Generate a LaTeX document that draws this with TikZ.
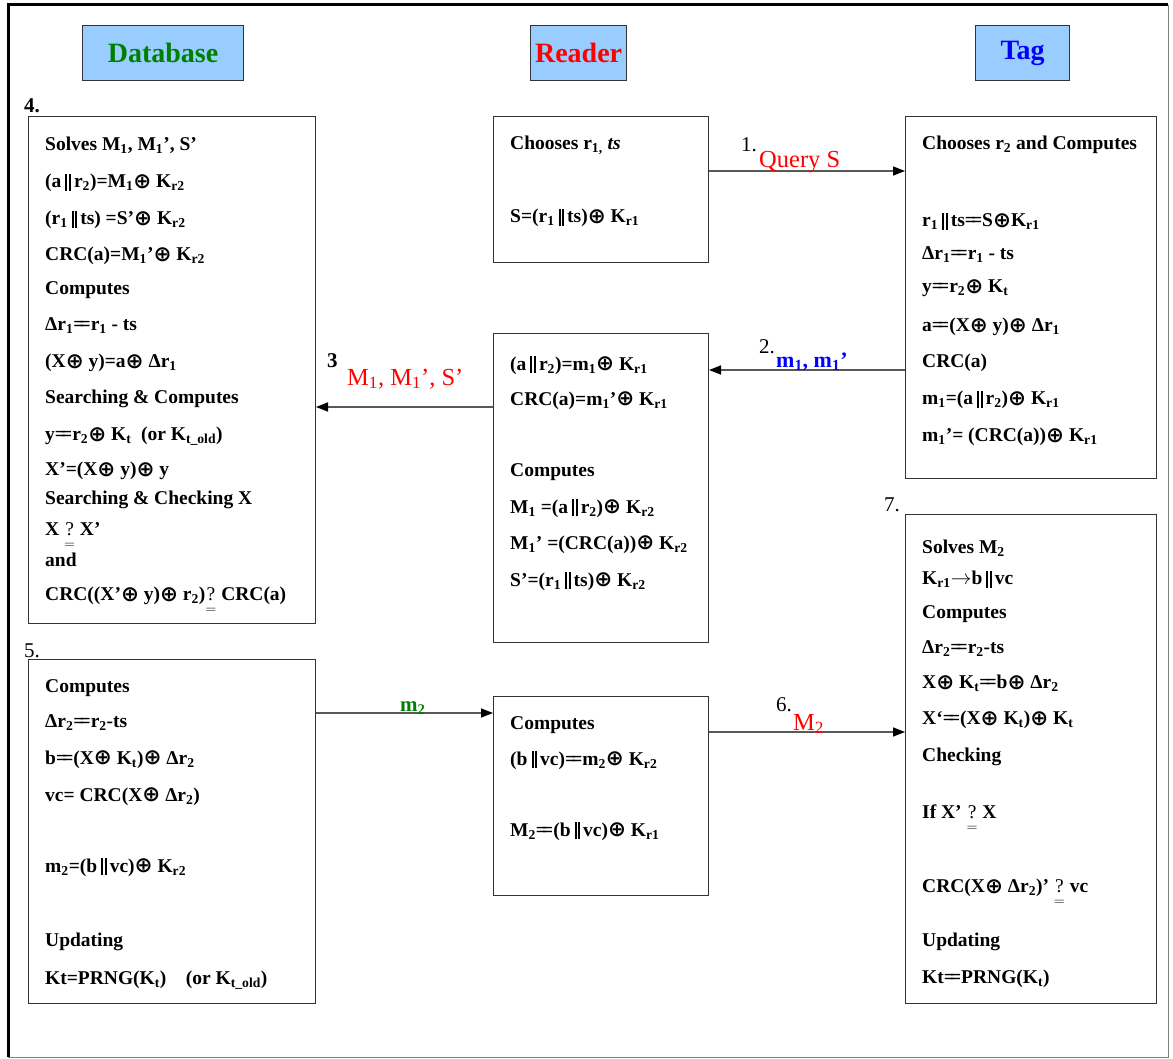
\documentclass[tikz,border=0pt]{standalone}
\usepackage{amsmath}
\usepackage{graphicx}
\usepackage{fontspec}
\setmainfont{Liberation Serif}
\newfontfamily\dvfont{DejaVu Sans}
\usetikzlibrary{arrows.meta}
\definecolor{hdrfill}{HTML}{99CCFF}
\definecolor{dgreen}{HTML}{008000}
\newcommand\xo{\raisebox{-0.5pt}{\scalebox{1.1}{\dvfont\char"2295}}}
\newcommand\pp{\kern4pt\rule[-3pt]{2pt}{17pt}\kern1.6pt\rule[-3pt]{2pt}{17pt}\kern3pt}
\newcommand\weq{=\kern-.25em=}
\newcommand\qe{\ensuremath{\underset{=}{\text{\normalfont ?}}}}
\newcommand\sbs[1]{\textsubscript{#1}}
\begin{document}
\begin{tikzpicture}[x=1pt,y=-1pt,
  hdr/.style={draw=black!80,line width=1.2pt,fill=hdrfill,inner sep=0pt,anchor=north west,font=\fontsize{28}{32}\selectfont\bfseries},
  pbox/.style={draw=black!80,line width=1pt,inner sep=0pt,anchor=north west},
  txt/.style={anchor=north west,align=left,inner sep=0pt,font=\fontsize{19.5}{36}\selectfont\bfseries},
  arr/.style={draw=black!65,line width=1.5pt,-{Triangle[length=12pt,width=9pt,color=black]}},
  num/.style={inner sep=0pt,anchor=base west,font=\fontsize{21}{24}\selectfont},
  bnum/.style={num,font=\fontsize{21}{24}\selectfont\bfseries},
  lbl/.style={inner sep=0pt,anchor=base west,font=\fontsize{24.5}{28}\selectfont}]
\useasboundingbox (0,0) rectangle (1173,1059);
% outer frame
\draw[black!50,line width=0.8pt] (1168,5) -- (1168,1057) -- (8,1057);
\draw[black,line width=3pt] (8,1057) -- (8,5) -- (1168,5);
% headers
\node[hdr,minimum width=161pt,minimum height=55pt,text=dgreen] (hdb) at (82,25) {Database};
\node[hdr,minimum width=96pt,minimum height=55pt,text=red] (hrd) at (530,25) {Reader};
\node[hdr,minimum width=94pt,minimum height=55pt,text=blue] (htg) at (975,25) {Tag};
% boxes
\node[pbox,minimum width=287pt,minimum height=507pt] (db1) at (28,116) {};
\node[pbox,minimum width=287pt,minimum height=344pt] (db2) at (28,659) {};
\node[pbox,minimum width=215pt,minimum height=146pt] (rd1) at (493,116) {};
\node[pbox,minimum width=215pt,minimum height=309pt] (rd2) at (493,333) {};
\node[pbox,minimum width=215pt,minimum height=199pt] (rd3) at (493,696) {};
\node[pbox,minimum width=251pt,minimum height=362pt] (tg1) at (905,116) {};
\node[pbox,minimum width=251pt,minimum height=489pt] (tg2) at (905,514) {};
% step numbers
\node[bnum] (n4) at (24,113) {4.};
\node[num] (n5) at (24,657) {5.};
\node[num] (n7) at (884,511) {7.};
% texts
\node[txt] (t-db1) at (45,137) {%
Solves M\sbs{1}, M\sbs{1}’, S’\\[1pt]
(a\pp r\sbs{2})=M\sbs{1}\xo{} K\sbs{r2}\\[1pt]
(r\sbs{1}\pp ts) =S’\xo{} K\sbs{r2}\\
CRC(a)=M\sbs{1}’\xo{} K\sbs{r2}\\[-2pt]
Computes\\
Δr\sbs{1}\weq r\sbs{1} - ts\\[1pt]
(X\xo{} y)=a\xo{} Δr\sbs{1}\\
Searching \& Computes\\[1pt]
y\weq r\sbs{2}\xo{} K\sbs{t}\ \ (or K\sbs{t\_old})\\[-1pt]
X’=(X\xo{} y)\xo{} y\\[-7pt]
Searching \& Checking X\\[-5pt]
X \qe{} X’\\[-5pt]
and\\[-2pt]
CRC((X’\xo{} y)\xo{} r\sbs{2})\qe{} CRC(a)};
\node[txt] (t-db2) at (45,679) {%
Computes\\[-1pt]
Δr\sbs{2}\weq r\sbs{2}-ts\\[1pt]
b\weq (X\xo{} K\sbs{t})\xo{} Δr\sbs{2}\\[1pt]
vc= CRC(X\xo{} Δr\sbs{2})\\[35pt]
m\sbs{2}=(b\pp vc)\xo{} K\sbs{r2}\\[38pt]
Updating\\[2pt]
Kt=PRNG(K\sbs{t})\quad (or K\sbs{t\_old})};
\node[txt] (t-rd1) at (510,136) {%
Chooses r\sbs{1,} \textit{ts}\\[37pt]
S=(r\sbs{1}\pp ts)\xo{} K\sbs{r1}};
\node[txt] (t-rd2) at (510,356) {%
(a\pp r\sbs{2})=m\sbs{1}\xo{} K\sbs{r1}\\[-1pt]
CRC(a)=m\sbs{1}’\xo{} K\sbs{r1}\\[35pt]
Computes\\[1pt]
M\sbs{1} =(a\pp r\sbs{2})\xo{} K\sbs{r2}\\
M\sbs{1}’ =(CRC(a))\xo{} K\sbs{r2}\\[1pt]
S’=(r\sbs{1}\pp ts)\xo{} K\sbs{r2}};
\node[txt] (t-rd3) at (510,716) {%
Computes\\
(b\pp vc)\weq m\sbs{2}\xo{} K\sbs{r2}\\[35pt]
M\sbs{2}\weq (b\pp vc)\xo{} K\sbs{r1}};
\node[txt] (t-tg1) at (922,136) {%
Chooses r\sbs{2} and Computes\\[41pt]
r\sbs{1}\pp ts\weq S\xo{}K\sbs{r1}\\[-3pt]
Δr\sbs{1}\weq r\sbs{1} - ts\\[-3pt]
y\weq r\sbs{2}\xo{} K\sbs{t}\\[3pt]
a\weq (X\xo{} y)\xo{} Δr\sbs{1}\\
CRC(a)\\[1pt]
m\sbs{1}=(a\pp r\sbs{2})\xo{} K\sbs{r1}\\[1pt]
m\sbs{1}’= (CRC(a))\xo{} K\sbs{r1}};
\node[txt] (t-tg2) at (922,540) {%
Solves M\sbs{2}\\[-5pt]
K\sbs{r1}$\rightarrow$b\pp vc\\[-2pt]
Computes\\[-1pt]
Δr\sbs{2}\weq r\sbs{2}-ts\\[-1pt]
X\xo{} K\sbs{t}\weq b\xo{} Δr\sbs{2}\\
X‘\weq (X\xo{} K\sbs{t})\xo{} K\sbs{t}\\[1pt]
Checking\\[21pt]
If X’ \qe{} X\\[38pt]
CRC(X\xo{} Δr\sbs{2})’ \qe{} vc\\[18pt]
Updating\\[1pt]
Kt\weq PRNG(K\sbs{t})};
% connectors
\draw[arr] (rd1.east |- 0,171) -- (tg1.west |- 0,171);
\draw[arr] (tg1.west |- 0,370) -- (rd2.east |- 0,370);
\draw[arr] (rd2.west |- 0,407) -- (db1.east |- 0,407);
\draw[arr] (db2.east |- 0,713) -- (rd3.west |- 0,713);
\draw[arr] (rd3.east |- 0,732) -- (tg2.west |- 0,732);
% connector labels
\node[num] (n1) at (741,152) {1.};
\node[lbl,text=red] (l1) at (759,168) {Query S};
\node[num] (n2) at (759,353) {2.};
\node[bnum,font=\fontsize{22}{24}\selectfont\bfseries,text=blue] (l2) at (776,367) {m\sbs{1}, m\sbs{1}’};
\node[bnum] (n3) at (327,367) {3};
\node[lbl,text=red] (l3) at (347,385) {M\sbs{1}, M\sbs{1}’, S’};
\node[bnum,text=dgreen] (l5) at (400,711) {m\sbs{2}};
\node[num] (n6) at (776,711) {6.};
\node[lbl,text=red] (l6) at (793,730) {M\sbs{2}};
\end{tikzpicture}
\end{document}
